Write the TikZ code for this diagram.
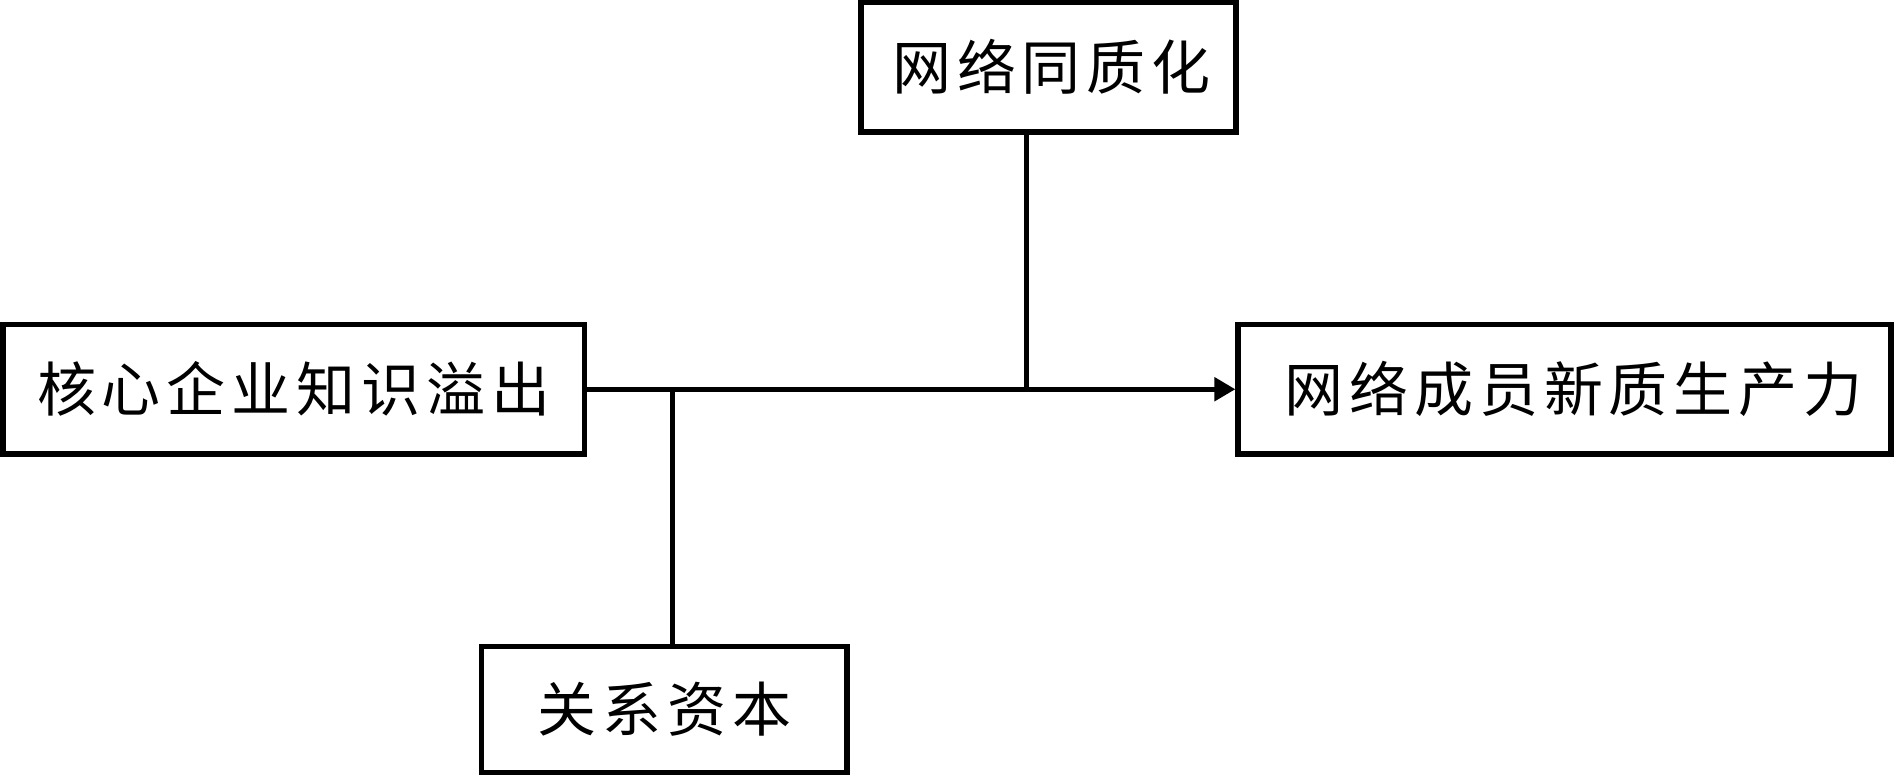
\documentclass[tikz,border=0pt]{standalone}
\usepackage{fontspec}
\newfontfamily\cjkfont[LetterSpace=10]{Noto Sans CJK SC}
\usetikzlibrary{arrows.meta}
\begin{document}
\begin{tikzpicture}[x=0.5pt,y=-0.5pt,
  box/.style={draw, line width=2.6pt, inner sep=0pt, fill=white,
    font=\cjkfont\fontsize{29.5pt}{34pt}\selectfont},
  link/.style={line width=2.5pt}]
\useasboundingbox[fill=white] (0,0) rectangle (1894,779);
\node[box, minimum width=290.75pt, minimum height=64.75pt] (core) at (293.75,389.25) {核心企业知识溢出};
\node[box, minimum width=326.5pt, minimum height=64.75pt] (out) at (1564.5,389.25) {\hspace*{9pt}网络成员新质生产力};
\node[box, minimum width=187.5pt, minimum height=64.75pt] (homo) at (1048.5,67.25) {\hspace*{3pt}网络同质化};
\node[box, minimum width=182.75pt, minimum height=63pt] (rel) at (664.25,709.25) {关系资本};
\coordinate (j1) at (1026.5,389.25);
\coordinate (j2) at (672.5,389.25);
\draw[link, -{Triangle[length=10.5pt,width=11.5pt]}] (core.east) -- (out.west);
\draw[link] (j1 |- homo.south) -- (j1);
\draw[link] (j2) -- (j2 |- rel.north);
\end{tikzpicture}
\end{document}
